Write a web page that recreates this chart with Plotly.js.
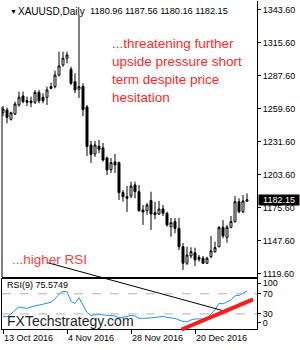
<!DOCTYPE html>
<html><head><meta charset="utf-8">
<script src="https://cdn.plot.ly/plotly-3.0.1.min.js"></script>
<style>html,body{margin:0;padding:0;background:#fff}#chart{width:300px;height:350px}</style>
</head><body><div id="chart"></div>
<script>
const dates = ['2016-10-13','2016-10-14','2016-10-17','2016-10-18','2016-10-19','2016-10-20','2016-10-21','2016-10-24','2016-10-25','2016-10-26','2016-10-27','2016-10-28','2016-10-31',
'2016-11-01','2016-11-02','2016-11-03','2016-11-04','2016-11-07','2016-11-08','2016-11-09','2016-11-10','2016-11-11','2016-11-14','2016-11-15','2016-11-16','2016-11-17','2016-11-18','2016-11-21','2016-11-22','2016-11-23','2016-11-24','2016-11-25','2016-11-28','2016-11-29','2016-11-30',
'2016-12-01','2016-12-02','2016-12-05','2016-12-06','2016-12-07','2016-12-08','2016-12-09','2016-12-12','2016-12-13','2016-12-14','2016-12-15','2016-12-16','2016-12-19','2016-12-20','2016-12-21','2016-12-22','2016-12-23','2016-12-26','2016-12-27','2016-12-28','2016-12-29','2016-12-30',
'2017-01-02','2017-01-03','2017-01-04','2017-01-05','2017-01-06'];
const openP  = [1256.0,1258.3,1250.4,1254.9,1262.6,1270.2,1266.2,1265.9,1264.9,1273.3,1269.1,1269.1,1278.1,1278.1,1288.0,1296.5,1302.2,1292.9,1282.3,1275.9,1278.3,1260.9,1228.6,1221.0,1227.5,1226.1,1217.6,1207.8,1214.2,1213.6,1188.2,1184.8,1185.4,1194.7,1189.0,1173.5,1172.9,1181.4,1171.2,1170.1,1174.3,1170.7,1159.3,1163.6,1157.9,1142.3,1128.3,1134.5,1137.2,1133.3,1132.5,1128.3,1133.9,1138.1,1142.3,1158.8,1150.3,1158.8,1163.6,1180.5,1172.0,1180.96];
const highP  = [1261.7,1260.3,1256.9,1265.4,1273.9,1273.9,1269.6,1269.6,1275.3,1275.3,1272.5,1278.1,1281.5,1291.7,1307.8,1307.8,1307.8,1295.1,1289.5,1338.9,1281.0,1262.6,1232.0,1232.0,1232.9,1230.3,1218.9,1217.6,1221.0,1214.5,1190.4,1193.8,1197.5,1197.5,1194.7,1177.7,1179.4,1189.0,1180.5,1181.1,1177.7,1172.0,1166.7,1166.7,1166.7,1145.5,1142.3,1141.8,1141.5,1135.3,1134.4,1133.8,1151.4,1146.6,1159.9,1165.0,1160.8,1168.4,1185.4,1183.4,1186.2,1187.56];
const lowP   = [1253.2,1247.0,1249.3,1254.1,1261.1,1264.0,1261.7,1260.6,1263.4,1264.0,1264.0,1262.6,1275.9,1276.7,1286.6,1295.1,1297.9,1279.5,1272.5,1268.5,1253.0,1219.3,1213.4,1218.5,1221.6,1214.5,1203.2,1204.9,1204.9,1181.9,1180.5,1171.8,1183.4,1183.4,1172.0,1160.8,1169.2,1156.5,1165.6,1169.2,1168.4,1159.3,1150.8,1153.7,1139.5,1122.6,1126.8,1132.5,1125.9,1129.6,1127.6,1127.6,1132.5,1137.2,1141.8,1149.5,1145.7,1157.9,1162.7,1170.7,1170.7,1180.16];
const closeP = [1258.9,1252.1,1256.0,1263.4,1269.1,1265.4,1264.9,1264.5,1273.3,1266.0,1266.2,1275.3,1276.7,1288.0,1295.7,1302.2,1305.0,1281.0,1275.3,1278.1,1258.6,1227.4,1220.6,1228.6,1225.0,1215.9,1207.4,1213.6,1211.7,1188.2,1184.8,1183.4,1193.8,1189.0,1172.9,1171.8,1177.7,1170.1,1169.5,1174.3,1170.7,1160.8,1162.7,1157.9,1142.3,1128.3,1135.3,1138.1,1131.1,1131.6,1128.3,1132.5,1138.7,1141.5,1158.5,1151.4,1158.8,1163.6,1180.5,1172.0,1181.1,1182.15];
const rsi9   = [25,24,30,38,44,42,41,44,46,47,49,51,53,60,69,75,74,55,51,62,48,33,27,28,29,28,27,27,26,22,23,25,27,26,21,21,22,22,23,24,25,23,22,21,18,15,14,18,20,20,20,22,30,38,51,50,54,58,66,67,71,75.5749];
const priceTicks = [1119.6,1147.6,1175.6,1203.6,1231.6,1259.6,1287.6,1315.6,1343.6];
const dateTickDates = ['2016-10-13','2016-11-04','2016-11-28','2016-12-20'];
const dateTickLabels = ['13 Oct 2016','4 Nov 2016','28 Nov 2016','20 Dec 2016'];
const rsiTickPos = [91,70,30,13];
const rsiTickLabels = ['100','70','30','0'];
const rsiLevels = [70,30];
const symbol = 'XAUUSD,Daily';
const lastBar = [openP[openP.length-1], highP[highP.length-1], lowP[lowP.length-1], closeP[closeP.length-1]];
const lastClose = closeP[closeP.length-1];
const lastRsi = rsi9[rsi9.length-1];
const noteLines = ['...threatening further','upside pressure short','term despite price','hesitation'];
const rsiNote = '...higher RSI';
const watermark = 'FXTechstrategy.com';

const W=300,H=350,L=2,R=43,T=1,B=21;
const pw=W-L-R, ph=H-T-B;
const px = x => (x-L)/pw;
const py = y => (H-B-y)/ph;
const FONT = 'Liberation Sans, Arial, sans-serif';

const candles = {
  type:'candlestick', x:dates, open:openP, high:highP, low:lowP, close:closeP,
  xaxis:'x', yaxis:'y',
  increasing:{line:{color:'#000',width:1}, fillcolor:'#ffffff'},
  decreasing:{line:{color:'#000',width:1}, fillcolor:'#000000'},
  whiskerwidth:0, hoverinfo:'skip'
};
const rsiTrace = {
  type:'scatter', mode:'lines', x:dates, y:rsi9, xaxis:'x2', yaxis:'y2',
  line:{color:'#1e90ff', width:1}, hoverinfo:'skip'
};

const shapes = rsiLevels.map(v => ({type:'line', xref:'paper', x0:0, x1:1, yref:'y2', y0:v, y1:v,
  line:{color:'#b0b0b0', width:1, dash:'dash'}}));
shapes.push({type:'line', xref:'paper', yref:'paper', x0:0, x1:0, y0:py(277), y1:py(107), line:{color:'#000', width:1}});
shapes.push({type:'line', xref:'paper', yref:'paper', x0:px(47), y0:py(262.5), x1:px(228), y1:py(312), line:{color:'#000', width:1}});
shapes.push({type:'line', xref:'paper', yref:'paper', x0:px(181.5), y0:py(329.5), x1:px(253), y1:py(299.3), line:{color:'#ff1a1a', width:4}});

const ann = [];
ann.push({xref:'paper', yref:'paper', x:px(8), y:py(11), xanchor:'left', yanchor:'middle', text:'▼', showarrow:false, font:{family:FONT, size:7, color:'#000'}});
ann.push({xref:'paper', yref:'paper', x:px(16), y:py(11), xanchor:'left', yanchor:'middle', text:symbol, showarrow:false, font:{family:FONT, size:10, color:'#000'}});
ann.push({xref:'paper', yref:'paper', x:px(88), y:py(11), xanchor:'left', yanchor:'middle', text:lastBar.map(v=>v.toFixed(2)).join(' '), showarrow:false, font:{family:FONT, size:9.2, color:'#000'}});
noteLines.forEach((t,i) => ann.push({xref:'paper', yref:'paper', x:px(110), y:py(43.3+18*i), xanchor:'left', yanchor:'middle', text:t, showarrow:false, font:{family:FONT, size:13.5, color:'#ff2828'}}));
ann.push({xref:'paper', yref:'paper', x:px(10), y:py(259.5), xanchor:'left', yanchor:'middle', text:rsiNote, showarrow:false, font:{family:FONT, size:13.5, color:'#ff3c3c'}});
ann.push({xref:'paper', yref:'paper', x:px(5), y:py(285), xanchor:'left', yanchor:'middle', text:'RSI(9) '+lastRsi.toFixed(4), showarrow:false, font:{family:FONT, size:9, color:'#000'}});
ann.push({xref:'paper', yref:'paper', x:px(5), y:py(320.5), xanchor:'left', yanchor:'middle', text:watermark, showarrow:false, font:{family:FONT, size:14, color:'#1e1e1e'}});
ann.push({xref:'paper', yref:'y', x:px(258), y:lastClose, xanchor:'left', yanchor:'middle', text:lastClose.toFixed(2), showarrow:false,
  bgcolor:'#000', borderpad:0, width:40, height:10, align:'center', font:{family:FONT, size:9, color:'#fff'}});

const layout = {
  width:W, height:H, margin:{l:L,r:R,t:T,b:B,pad:0},
  paper_bgcolor:'#fff', plot_bgcolor:'#fff', showlegend:false,
  font:{family:FONT, size:9, color:'#000'},
  xaxis:{type:'category', range:[-0.25,63.5], anchor:'y', showticklabels:false, ticks:'', showgrid:false, zeroline:false,
    showline:true, linecolor:'#000', linewidth:1, rangeslider:{visible:false}, fixedrange:true},
  yaxis:{domain:[py(277),1], range:[1116.6,1350.8], side:'right', anchor:'x', tickvals:priceTicks, tickformat:'.2f',
    ticks:'outside', ticklen:3, tickcolor:'#000', showline:true, linecolor:'#000', linewidth:1, showgrid:false, zeroline:false,
    tickfont:{family:FONT, size:9, color:'#000'}, fixedrange:true},
  xaxis2:{type:'category', range:[-0.25,63.5], anchor:'y2', tickvals:dateTickDates, ticktext:dateTickLabels, ticks:'outside', ticklen:4,
    tickcolor:'#000', ticklabelposition:'outside right', showline:true, mirror:true, linecolor:'#000', linewidth:1, showgrid:false, zeroline:false,
    tickfont:{family:FONT, size:9, color:'#000'}, fixedrange:true},
  yaxis2:{domain:[0, py(278.7)], range:[0,100], side:'right', anchor:'x2', tickvals:rsiTickPos, ticktext:rsiTickLabels, ticks:'outside', ticklen:3,
    tickcolor:'#000', showline:true, mirror:true, linecolor:'#000', linewidth:1, showgrid:false, zeroline:false,
    tickfont:{family:FONT, size:9, color:'#000'}, fixedrange:true},
  shapes:shapes, annotations:ann
};
Plotly.newPlot('chart', [candles, rsiTrace], layout, {staticPlot:true, displayModeBar:false});
</script></body></html>
